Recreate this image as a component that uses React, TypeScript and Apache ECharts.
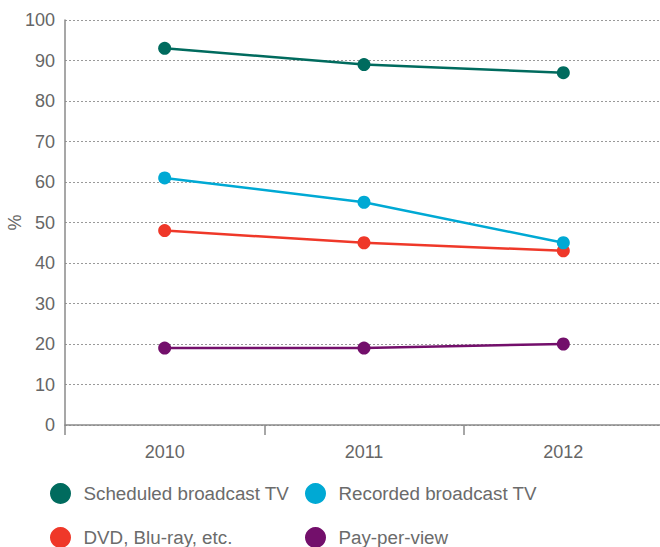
import React, { useEffect, useRef } from "react";
import * as echarts from "echarts";

const categories = ["2010", "2011", "2012"];
const scheduled = [93, 89, 87];
const recorded = [61, 55, 45];
const dvd = [48, 45, 43];
const ppv = [19, 19, 20];

const names = ["Scheduled broadcast TV", "Recorded broadcast TV", "DVD, Blu-ray, etc.", "Pay-per-view"];
const colors = ["#006b5e", "#00a9d4", "#ef3829", "#730f6b"];

const FONT = "'Liberation Sans', Arial, Helvetica, sans-serif";

export default function App() {
  const ref = useRef<HTMLDivElement>(null);
  useEffect(() => {
    document.body.style.margin = "0";
    const chart = echarts.init(ref.current!, null, { renderer: "svg" });
    const seriesData = [scheduled, recorded, dvd, ppv];
    const legendPos = [
      { left: 50, top: 483 },
      { left: 305, top: 483 },
      { left: 50, top: 527 },
      { left: 305, top: 527 },
    ];
    chart.setOption({
      animation: false,
      textStyle: { fontFamily: FONT },
      grid: {
        left: 65,
        right: -3,
        top: 20,
        bottom: 122,
        containLabel: false,
        outerBoundsMode: "none",
      },
      legend: names.map((n, i) => ({
        data: [n],
        left: legendPos[i].left,
        top: legendPos[i].top,
        icon: "circle",
        itemWidth: 36,
        itemHeight: 21,
        itemGap: 0,
        padding: 0,
        textStyle: { fontSize: 18.8, color: "#6b6b6b", fontFamily: FONT },
      })),
      xAxis: {
        type: "category",
        data: categories,
        boundaryGap: true,
        axisLine: { lineStyle: { color: "#8a8a8a", width: 1.5 } },
        axisTick: { show: true, length: 10, lineStyle: { color: "#8a8a8a", width: 1.5 } },
        axisLabel: { margin: 18, fontSize: 18, color: "#666", fontFamily: FONT },
        splitLine: { show: false },
      },
      yAxis: {
        type: "value",
        min: 0,
        max: 100,
        interval: 10,
        name: "%",
        nameLocation: "middle",
        nameRotate: 90,
        nameGap: 41,
        nameMoveOverlap: false,
        nameTextStyle: { fontSize: 18, color: "#666", fontFamily: FONT },
        axisLine: { show: true, lineStyle: { color: "#8a8a8a", width: 1.5 } },
        axisTick: { show: false },
        axisLabel: { margin: 10, fontSize: 18, color: "#666", fontFamily: FONT },
        splitLine: { show: true, lineStyle: { color: "#999", type: [2, 2], width: 1 } },
      },
      series: names.map((n, i) => ({
        name: n,
        type: "line",
        data: seriesData[i],
        symbol: "circle",
        symbolSize: 13,
        lineStyle: { color: colors[i], width: 2.5 },
        itemStyle: { color: colors[i] },
        z: 10 - i,
      })),
    });
    return () => chart.dispose();
  }, []);
  return <div ref={ref} style={{ width: 660, height: 547 }} />;
}
